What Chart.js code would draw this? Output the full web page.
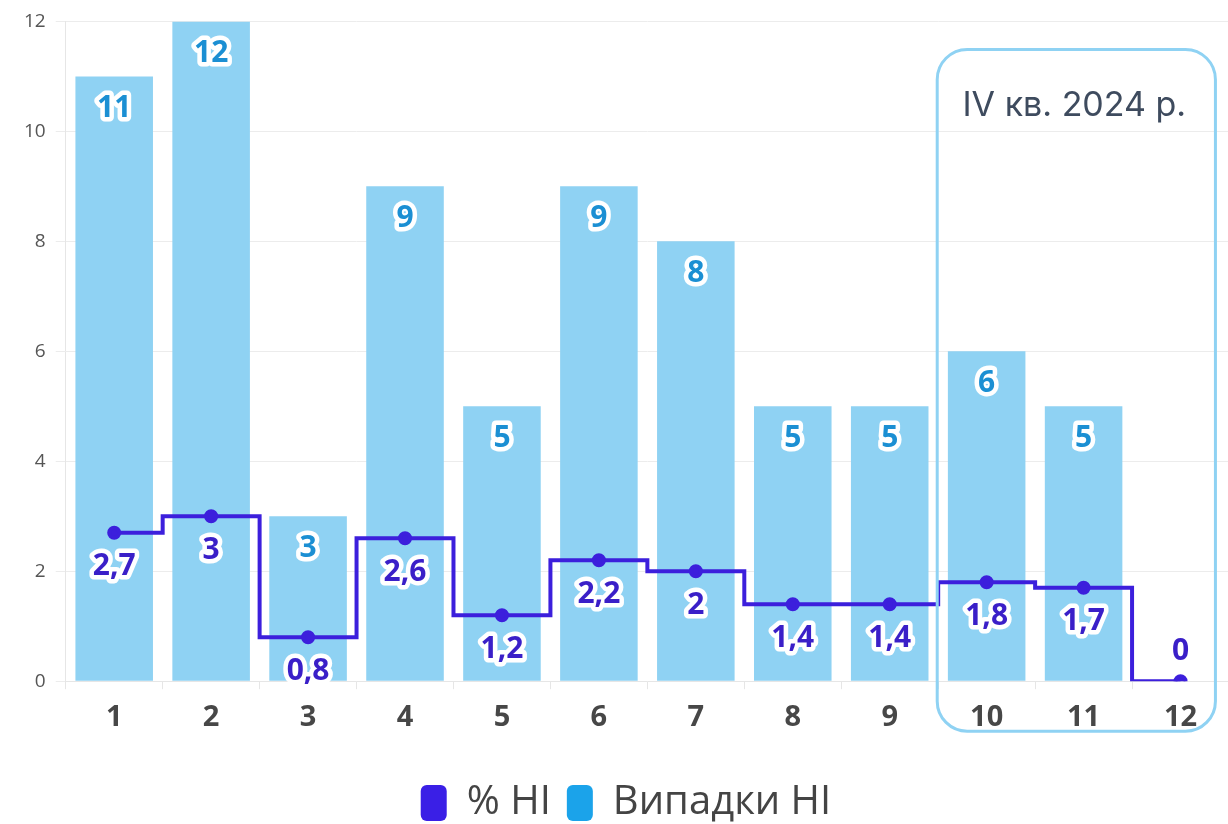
<!DOCTYPE html>
<html>
<head>
<meta charset="utf-8">
<script src="https://cdn.jsdelivr.net/npm/chart.js@4.4.1/dist/chart.umd.min.js"></script>
<style>
  html, body { margin: 0; padding: 0; background: #fff; overflow: hidden; }
  #wrap { width: 1238px; height: 824px; }
</style>
</head>
<body>
<div id="wrap"><canvas id="chart"></canvas></div>
<script>
const months = ["1", "2", "3", "4", "5", "6", "7", "8", "9", "10", "11", "12"];
const casesHI = [11, 12, 3, 9, 5, 9, 8, 5, 5, 6, 5, null];
const percentHI = [2.7, 3, 0.8, 2.6, 1.2, 2.2, 2, 1.4, 1.4, 1.8, 1.7, 0];
const yTicks = [0, 2, 4, 6, 8, 10, 12];
const quarterLabel = "IV кв. 2024 р.";

const lineColor = "#3c1fdc";
const barColor = "#8fd2f3";
const legendColors = ["#3a1fe6", "#1ba3ea"];

function fmt(v) {
  return String(v).replace(".", ",");
}

function outlinedText(ctx, text, x, y, color) {
  ctx.lineJoin = "round";
  ctx.lineWidth = 9;
  ctx.strokeStyle = "#fff";
  ctx.strokeText(text, x, y);
  ctx.fillStyle = color;
  ctx.fillText(text, x, y);
}

const valueLabels = {
  id: "valueLabels",
  afterDatasetsDraw(chart) {
    const ctx = chart.ctx;
    ctx.save();
    ctx.font = "bold 30px 'Open Sans'";
    ctx.textAlign = "center";
    ctx.textBaseline = "middle";
    chart.data.datasets.forEach((ds, i) => {
      const meta = chart.getDatasetMeta(i);
      meta.data.forEach((el, j) => {
        const v = ds.data[j];
        if (v === null || v === undefined) return;
        if (ds.type === "bar") {
          outlinedText(ctx, fmt(v), el.x, el.y + 32, "#1b8fd3");
        } else {
          const dy = v === 0 ? -30 : 34;
          outlinedText(ctx, fmt(v), el.x, el.y + dy, "#3a1fc8");
        }
      });
    });
    ctx.restore();
  },
};

const quarterBox = {
  id: "quarterBox",
  afterDraw(chart) {
    const { ctx, scales: { x, y } } = chart;
    const step = x.getPixelForValue(1) - x.getPixelForValue(0);
    const left = x.getPixelForValue(9) - step * 0.51;
    const right = x.getPixelForValue(11) + step * 0.36;
    const top = y.getPixelForValue(12) + 28;
    const bottom = y.getPixelForValue(0) + 50;
    ctx.save();
    ctx.strokeStyle = "#8fd2f3";
    ctx.lineWidth = 3;
    ctx.beginPath();
    ctx.roundRect(left, top, right - left, bottom - top, 30);
    ctx.stroke();
    ctx.font = "34px Inter";
    ctx.fillStyle = "#3e4b5e";
    ctx.textAlign = "center";
    ctx.textBaseline = "middle";
    ctx.fillText(quarterLabel, (left + right) / 2 - 2, top + 56);
    ctx.restore();
  },
};

new Chart(document.getElementById("chart"), {
  data: {
    labels: months,
    datasets: [
      {
        type: "line",
        label: "% HI",
        data: percentHI,
        stepped: "middle",
        borderColor: lineColor,
        backgroundColor: lineColor,
        borderWidth: 4,
        pointRadius: 5,
        pointHoverRadius: 5,
        order: 0,
      },
      {
        type: "bar",
        label: "Випадки HI",
        data: casesHI,
        backgroundColor: barColor,
        barPercentage: 0.8,
        categoryPercentage: 1,
        order: 1,
      },
    ],
  },
  options: {
    responsive: true,
    maintainAspectRatio: false,
    animation: false,
    layout: { padding: { left: 14, top: 6, right: 0, bottom: -9 } },
    plugins: {
      tooltip: { enabled: false },
      legend: {
        position: "bottom",
        labels: {
          font: { family: "'Open Sans'", size: 40 },
          color: "#444",
          boxWidth: 26,
          boxHeight: 36,
          useBorderRadius: true,
          borderRadius: 6,
          padding: 16,
          generateLabels(chart) {
            return Chart.defaults.plugins.legend.labels.generateLabels(chart).map((l, i) => ({
              ...l,
              fillStyle: legendColors[i],
              strokeStyle: legendColors[i],
              lineWidth: 0,
            }));
          },
        },
      },
    },
    scales: {
      x: {
        grid: { display: true, drawOnChartArea: false, tickLength: 8, color: "#e6e6e6" },
        border: { color: "#e6e6e6" },
        ticks: { font: { family: "'Open Sans'", size: 29, weight: "bold" }, color: "#474747", padding: 11 },
        afterFit(scale) {
          scale.height += 21;
        },
      },
      y: {
        min: 0,
        max: 12,
        afterBuildTicks(scale) {
          scale.ticks = yTicks.map((v) => ({ value: v }));
        },
        grid: { color: "#ececec", tickLength: 10 },
        border: { color: "#e6e6e6" },
        ticks: { font: { family: "'Open Sans'", size: 19 }, color: "#555", padding: 10 },
      },
    },
  },
  plugins: [valueLabels, quarterBox],
});
</script>
</body>
</html>
